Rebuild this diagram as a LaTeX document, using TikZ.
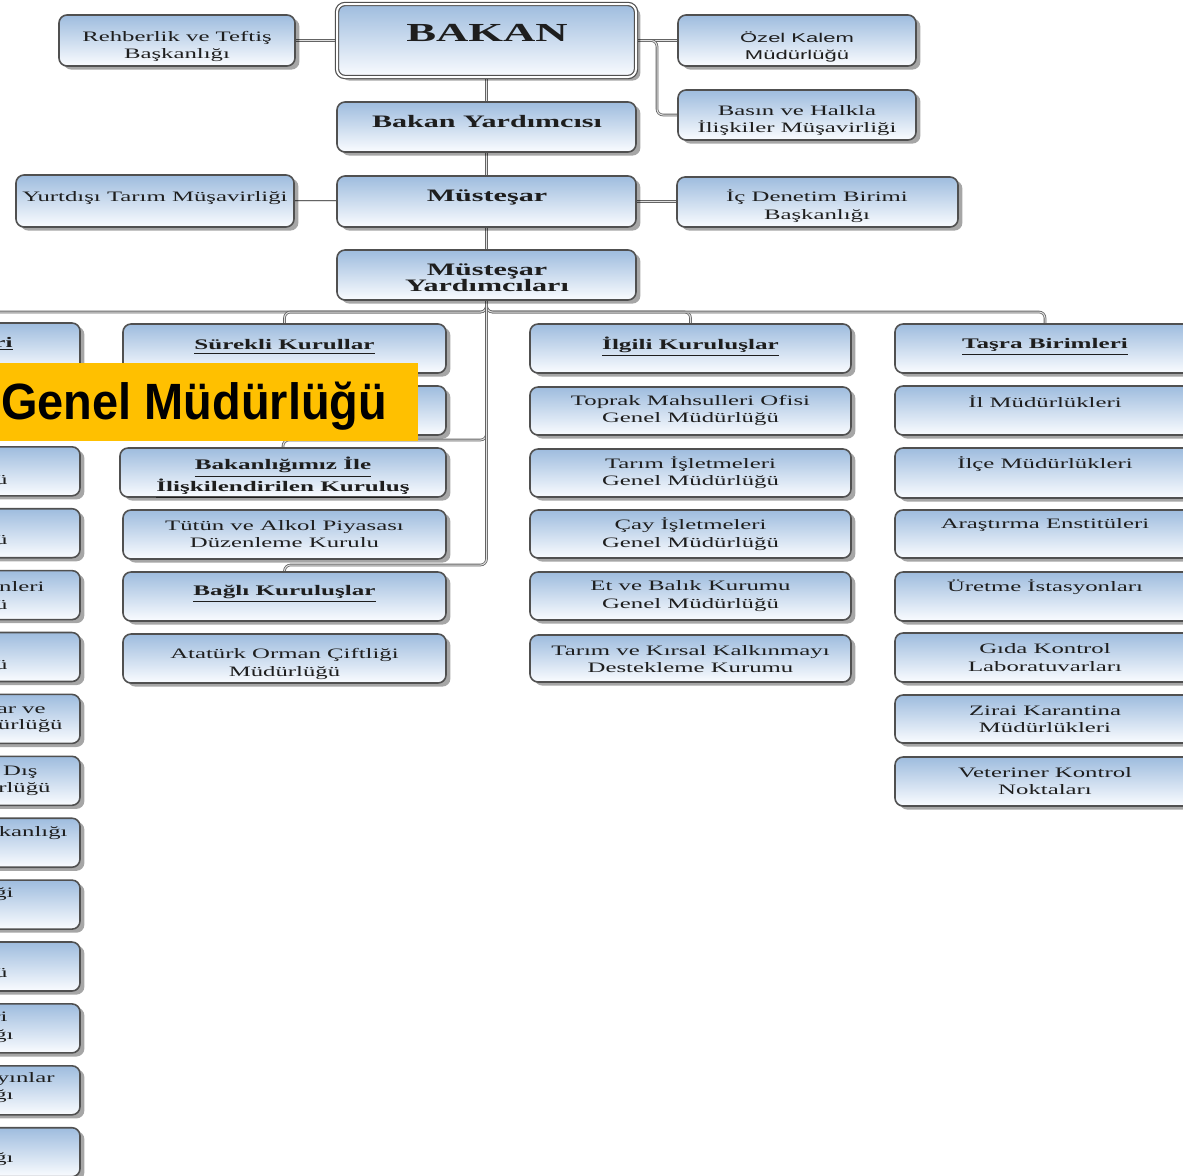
\documentclass[tikz,border=0pt]{standalone}
\usepackage{fontspec}
\newfontfamily\rfont[FakeStretch=1.72]{Liberation Serif}
\newfontfamily\sfontw[FakeStretch=1.72]{Liberation Sans}
\newfontfamily\bnfont[FakeStretch=0.92]{Liberation Sans}
\usetikzlibrary{fit,shadows,calc}
\pgfdeclarelayer{bg}
\pgfsetlayers{bg,main}
\definecolor{boxtop}{RGB}{158,188,222}
\definecolor{boxbot}{RGB}{250,252,255}
\definecolor{boxline}{RGB}{80,80,80}
\definecolor{linec}{RGB}{100,100,100}
\definecolor{bannerc}{RGB}{255,192,0}
\definecolor{txtc}{RGB}{30,30,30}
\tikzset{
 orgbox/.style={draw=boxline, line width=0.8pt, rounded corners=4pt, top color=boxtop, bottom color=boxbot, inner sep=0pt, outer sep=0pt,
   drop shadow={shadow xshift=2.2pt, shadow yshift=-1.8pt, fill=black, opacity=0.35}},
 conn/.style={draw=linec, line width=0.4pt, double=black!12, double distance=0.5pt, rounded corners=3pt},
 tx/.style={font=\rfont\fontsize{7.2}{8.6}\selectfont, text=txtc, align=center, inner sep=0pt},
 txb/.style={tx, font=\rfont\bfseries\fontsize{7.3}{8.8}\selectfont},
 txh/.style={tx, font=\rfont\bfseries\fontsize{8.75}{8.2}\selectfont},
 txbig/.style={tx, font=\rfont\bfseries\fontsize{13}{13}\selectfont},
 txs/.style={tx, font=\sfontw\fontsize{6.4}{8.5}\selectfont},
 frag/.style={tx, anchor=base east},
 fragb/.style={txb, anchor=base east},
}
\newcommand\OB[6][]{\node[orgbox,#1,fit={(#3,#4) (#5,#6)}] (#2) {};}
\newcommand\TX[5][tx]{\node[#1] (#2) at (#3,#4+2) {#5};}
\begin{document}
\begin{tikzpicture}[x=0.5pt,y=-0.5pt]
\path[use as bounding box] (0,0) rectangle (1183,1175);
\clip (0,0) rectangle (1183,1175);

% top level boxes
\OB{rehb}{59}{15}{295}{66}
\OB[double=white,double distance=1pt,line width=0.6pt]{bakan}{337}{4}{636}{77}
\OB{ozel}{678}{15}{916}{66}
\OB{basin}{678}{90}{916}{140}
\OB{by}{337}{102}{636}{152}
\OB{yurt}{16}{175}{294}{227}
\OB{mus}{337}{176}{636}{227}
\OB{ic}{677}{177}{958}{227}
\OB{my}{337}{250}{636}{300}

% column 1 (cut off at left edge)
\foreach \i in {0,...,13}{%
  \pgfmathsetmacro\tp{323+61.9*\i}
  \OB{c1r\i}{-242}{\tp}{80}{\tp+49}
}
% column 2
\OB{surekli}{123}{324}{446}{373}
\OB{c2b}{123}{386}{446}{435}
\OB{bakanligimiz}{120}{448}{446}{497}
\OB{tutun}{123}{510}{446}{559}
\OB{bagli}{123}{572}{446}{621}
\OB{ataturk}{123}{634}{446}{683}
% column 3
\OB{ilgili}{530}{324}{851}{373}
\OB{toprak}{530}{387}{851}{435}
\OB{tarim}{530}{449}{851}{497}
\OB{cay}{530}{510}{851}{558}
\OB{et}{530}{572}{851}{620}
\OB{tkdk}{530}{635}{851}{682}
% column 4
\OB{tasra}{895}{324}{1195}{373}
\OB{il}{895}{386}{1195}{435}
\OB{ilce}{895}{448}{1195}{498}
\OB{arastirma}{895}{510}{1195}{558}
\OB{uretme}{895}{572}{1195}{621}
\OB{gida}{895}{633}{1195}{682}
\OB{zirai}{895}{695}{1195}{743}
\OB{vet}{895}{757}{1195}{806}

% connectors
\begin{pgfonlayer}{bg}
\fill[white] (0,0) rectangle (1183,1175);
\draw[conn] (rehb.east) -- (rehb.east -| bakan.west);
\draw[conn] (bakan.east) -- (bakan.east -| ozel.west);
\draw[conn] (bakan.east) -- ++(21,0) |- (basin.west);
\draw[conn] (bakan.south) -- (by.north);
\draw[conn] (by.south) -- (mus.north);
\draw[conn] (mus.south) -- (my.north);
\draw[conn] (yurt.east) -- (yurt.east -| mus.west);
\draw[conn] (mus.east) -- (mus.east -| ic.west);
\draw[conn] (my.south) -- ++(0,12) -| (c1r0.north);
\draw[conn] (my.south) -- ++(0,12) -| (surekli.north);
\draw[conn] (my.south) -- ++(0,12) -| (ilgili.north);
\draw[conn] (my.south) -- ++(0,12) -| (tasra.north);
\draw[conn] (my.south) -- ++(0,140) -| (bakanligimiz.north);
\draw[conn] (my.south) -- ++(0,265) -| (bagli.north);
\end{pgfonlayer}

% texts top
\TX{rehb-t}{177}{44.5}{Rehberlik ve Teftiş\\Başkanlığı}
\TX[txbig]{bakan-t}{487}{31}{BAKAN}
\TX[txs]{ozel-t}{797}{44.5}{Özel Kalem\\Müdürlüğü}
\TX{basin-t}{797}{118.5}{Basın ve Halkla\\İlişkiler Müşavirliği}
\TX[txh]{by-t}{487}{120}{Bakan Yardımcısı}
\TX{yurt-t}{155}{196}{Yurtdışı Tarım Müşavirliği}
\TX[txh]{mus-t}{487}{195}{Müsteşar}
\TX{ic-t}{817}{204}{İç Denetim Birimi\\Başkanlığı}
\TX[txh]{my-t}{487}{276}{Müsteşar\\Yardımcıları}

% column 1 fragments
\node[fragb] (f1) at (13,347) {\underline{ri}};
\node[frag] (f3) at (8,484) {ü};
\node[frag] (f4) at (8,544) {ü};
\node[frag] (f5a) at (45,591) {nleri};
\node[frag] (f5b) at (8,609) {ü};
\node[frag] (f6) at (8,669) {ü};
\node[frag] (f7a) at (46,713) {ar ve};
\node[frag] (f7b) at (63,729) {ürlüğü};
\node[frag] (f8a) at (38,775) {Dış};
\node[frag] (f8b) at (51,792) {rlüğü};
\node[frag] (f9) at (68,836) {kanlığı};
\node[frag] (f10) at (14,897) {ği};
\node[frag] (f11) at (8,977) {ü};
\node[frag] (f12a) at (8,1021) {ri};
\node[frag] (f12b) at (14,1039) {ğı};
\node[frag] (f13a) at (55,1082) {yınlar};
\node[frag] (f13b) at (14,1099) {ğı};
\node[frag] (f14) at (14,1162) {ğı};

% column 2 texts
\TX[txb]{surekli-t}{284.5}{345}{\underline{Sürekli Kurullar}}
\TX[txb]{bakanligimiz-t}{283}{476}{\underline{Bakanlığımız İle}\\\underline{İlişkilendirilen Kuruluş}}
\TX{tutun-t}{284.5}{532}{Tütün ve Alkol Piyasası\\Düzenleme Kurulu}
\TX[txb]{bagli-t}{284.5}{592}{\underline{Bağlı Kuruluşlar}}
\TX{ataturk-t}{284.5}{662}{Atatürk Orman Çiftliği\\Müdürlüğü}

% column 3 texts
\TX[txb]{ilgili-t}{690.5}{345}{\underline{İlgili Kuruluşlar}}
\TX{toprak-t}{690.5}{408.5}{Toprak Mahsulleri Ofisi\\Genel Müdürlüğü}
\TX{tarim-t}{690.5}{470.5}{Tarım İşletmeleri\\Genel Müdürlüğü}
\TX{cay-t}{690.5}{532}{Çay İşletmeleri\\Genel Müdürlüğü}
\TX{et-t}{690.5}{594}{Et ve Balık Kurumu\\Genel Müdürlüğü}
\TX{tkdk-t}{690.5}{657}{Tarım ve Kırsal Kalkınmayı\\Destekleme Kurumu}

% column 4 texts
\TX[txb]{tasra-t}{1045}{345}{\underline{Taşra Birimleri}}
\TX{il-t}{1045}{400}{İl Müdürlükleri}
\TX{ilce-t}{1045}{462}{İlçe Müdürlükleri}
\TX{arastirma-t}{1045}{523}{Araştırma Enstitüleri}
\TX{uretme-t}{1045}{585}{Üretme İstasyonları}
\TX{gida-t}{1045}{655.5}{Gıda Kontrol\\Laboratuvarları}
\TX{zirai-t}{1045}{717}{Zirai Karantina\\Müdürlükleri}
\TX{vet-t}{1045}{779}{Veteriner Kontrol\\Noktaları}

% banner
\node[fill=bannerc, inner sep=0pt, outer sep=0pt, fit={(0,363) (418,441)}] (banner) {};
\node[anchor=base west, inner sep=0pt, font=\bnfont\bfseries\fontsize{25.5}{26}\selectfont] (bannertext) at (1,419) {Genel Müdürlüğü};
\end{tikzpicture}
\end{document}
